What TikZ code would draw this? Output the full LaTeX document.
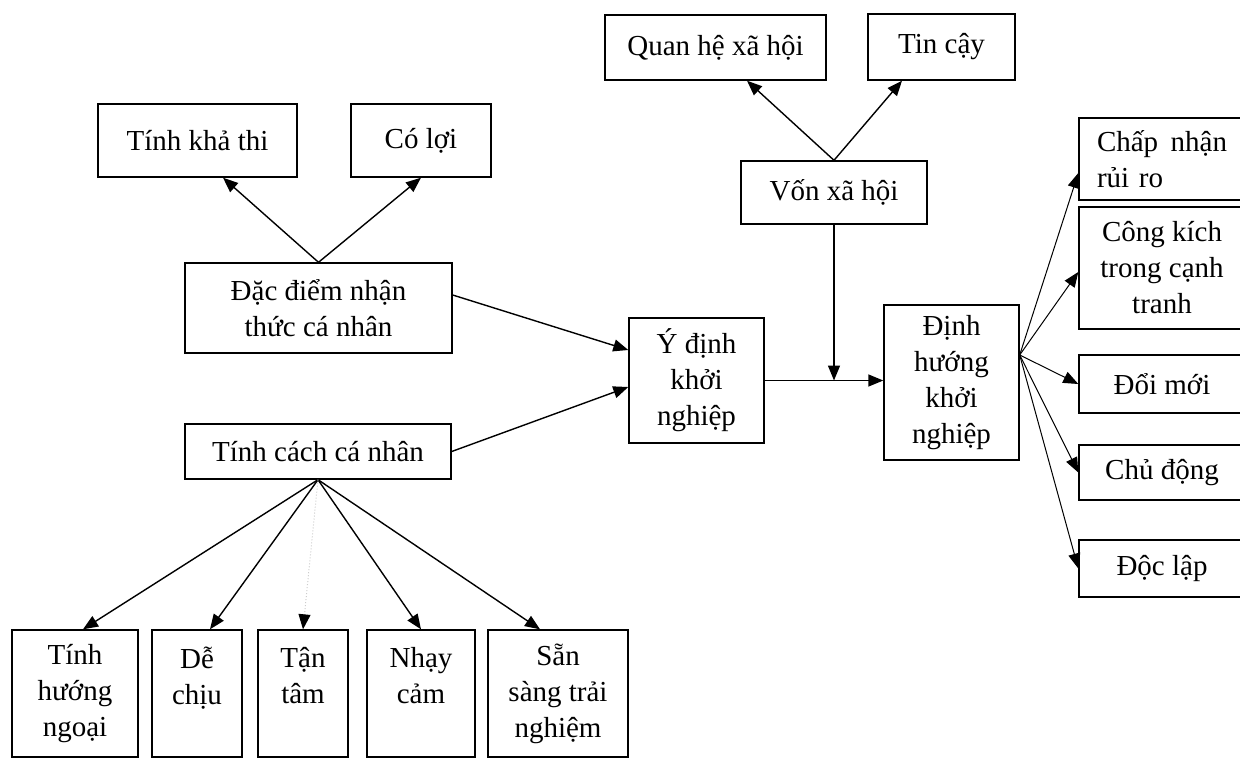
\documentclass[tikz,border=0pt]{standalone}
\usepackage{fontspec}
\setmainfont{Liberation Serif}
\usetikzlibrary{arrows.meta, positioning, calc}

\begin{document}
\begin{tikzpicture}[x=1pt, y=-1pt, on grid, line width=1.4pt,
    >={Triangle[length=15pt, width=12pt]},
    box/.style={draw, align=center, inner sep=0pt, font=\fontsize{29}{36}\selectfont},
    rbox/.style={box, minimum width=166pt},
    lbox/.style={box, minimum height=127pt},
    fanline/.style={line width=1pt}]
  \useasboundingbox (0,0) rectangle (1240,758);

  \node[box, minimum width=199pt, minimum height=73pt] (kha) at (197.5,140.5) {Tính khả thi};
  \node[box, minimum width=140pt, minimum height=73pt] (loi) at (421,140.5) {Có lợi};
  \node[box, minimum width=267pt, minimum height=90pt] (dacdiem) at (318.5,308) {Đặc điểm nhận\\thức cá nhân};
  \node[box, minimum width=266pt, minimum height=55pt] (tinhcach) at (318,451.5) {Tính cách cá nhân};

  \node[lbox, minimum width=126pt] (ngoai) at (75,693.5) {Tính\\hướng\\ngoại};
  \node[lbox, minimum width=90pt] (dechiu) [right=122pt of ngoai] {Dễ\\chịu\\\mbox{}};
  \node[lbox, minimum width=90pt] (tantam) [right=106pt of dechiu] {Tận\\tâm\\\mbox{}};
  \node[lbox, minimum width=108pt] (nhaycam) [right=118pt of tantam] {Nhạy\\cảm\\\mbox{}};
  \node[lbox, minimum width=140pt] (sansang) [right=137pt of nhaycam] {Sẵn\\sàng trải\\nghiệm};

  \node[box, minimum width=221pt, minimum height=65pt] (quanhe) at (715.5,47.5) {Quan hệ xã hội};
  \node[box, minimum width=147pt, minimum height=66pt] (tincay) at (941.5,47) {Tin cậy};
  \node[box, minimum width=186pt, minimum height=63pt] (von) at (834,192.5) {Vốn xã hội};
  \node[box, minimum width=135pt, minimum height=125pt] (ydinh) at (696.5,380.5) {Ý định\\khởi\\nghiệp};
  \node[box, minimum width=135pt, minimum height=155pt] (dinhhuong) at (951.5,382.5) {Định\\hướng\\khởi\\nghiệp};

  \node[rbox, minimum height=82pt, text width=130pt, align=left] (chapnhan) at (1162,159) {Chấp\hfill nhận\\rủi ro};
  \node[rbox, minimum height=122pt] (congkich) [below=109pt of chapnhan] {Công kích\\trong cạnh\\tranh};
  \node[rbox, minimum height=58pt] (doimoi) [below=116pt of congkich] {Đổi mới};
  \node[rbox, minimum height=55pt] (chudong) [below=88.5pt of doimoi] {Chủ động};
  \node[rbox, minimum height=57pt] (doclap) [below=96pt of chudong] {Độc lập};

  \path[->]
    (dacdiem.north) edge ($(kha.south)+(25.5,0)$)
                    edge (loi.south)
    (von.north) edge ($(quanhe.south)+(31.5,0)$)
                edge ($(tincay.south)+(-39.5,0)$)
    ($(dacdiem.east)+(0,-13)$) edge ($(ydinh.west)+(0,-30.5)$)
    (tinhcach.east) edge ($(ydinh.west)+(0,6.5)$)
    (ydinh.east) edge (ydinh.east -| dinhhuong.west)
    (von.south) edge (von.south |- ydinh.east)
    (tinhcach.south) edge ($(ngoai.north)+(8,0)$)
                     edge ($(dechiu.north)+(13,0)$)
                     edge (nhaycam.north)
                     edge ($(sansang.north)+(-18,0)$);
  \draw[-{Triangle[length=15pt, width=12pt, color=black]}, draw=black!20, dotted, fanline]
    (tinhcach.south) -- (tantam.north);

  \coordinate (fan) at ($(dinhhuong.east)+(0,-27.5)$);
  \path[->, fanline]
    (fan) edge ($(chapnhan.west)+(0,14)$)
          edge ($(congkich.west)+(0,4)$)
          edge (doimoi.west)
          edge (chudong.west)
          edge (doclap.west);
\end{tikzpicture}
\end{document}
